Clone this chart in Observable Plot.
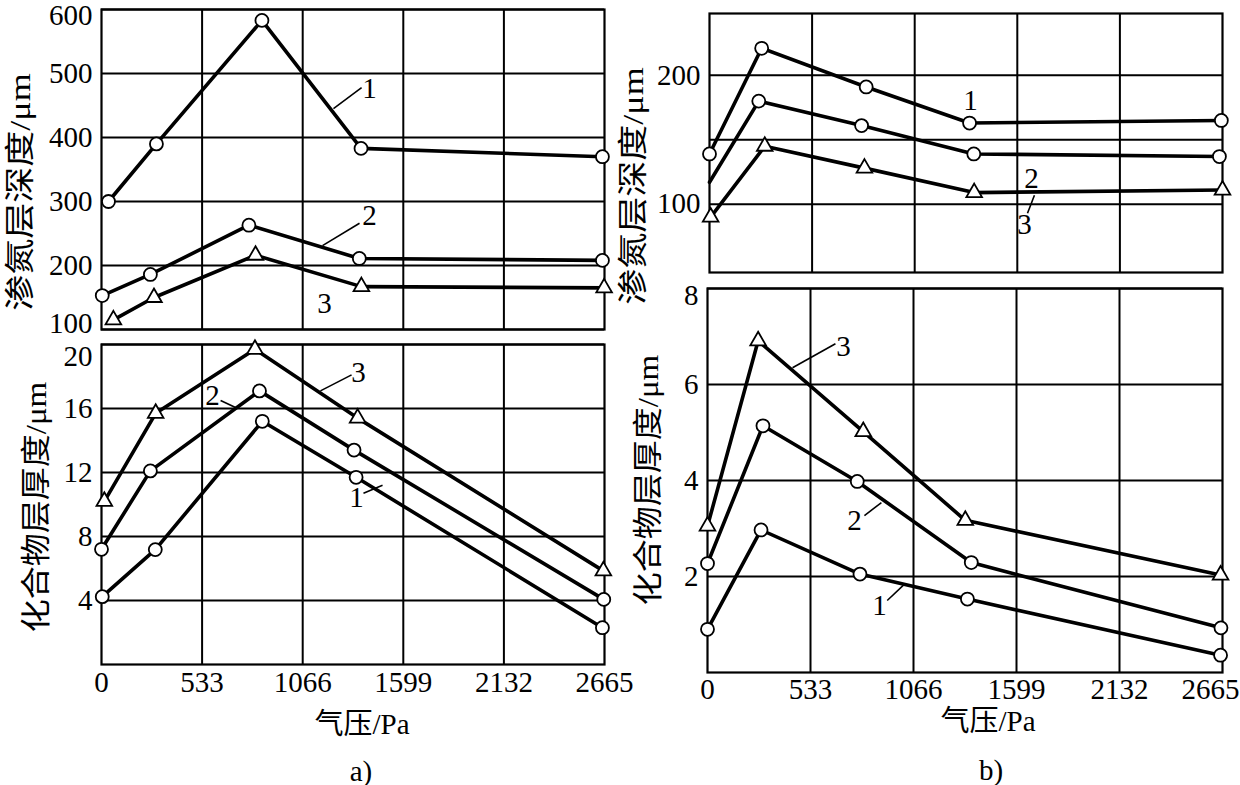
<!DOCTYPE html>
<html><head><meta charset="utf-8">
<script src="https://cdn.jsdelivr.net/npm/d3@7"></script>
<script src="https://cdn.jsdelivr.net/npm/@observablehq/plot@0.6"></script>
<style>
html,body{margin:0;padding:0;background:#fff;}
#root{position:relative;width:1240px;height:785px;overflow:hidden;background:#fff;font-family:"Liberation Serif","Noto Sans CJK SC",serif;color:#000;}
#root svg{position:absolute;left:0;top:0;}
.lbl{position:absolute;white-space:nowrap;line-height:1;font-size:29px;font-family:"Liberation Serif","Noto Sans CJK SC",serif;}
</style></head><body><div id="root"></div>
<script>
// ---- shared axis ticks ----
const pressureTicks = [0, 533, 1066, 1599, 2132, 2665];

// ---- panel a) top : 渗氮层深度 (μm) ----
const aDepth1X = [37, 291, 850, 1375, 2654];
const aDepth1Y = [300, 390, 583, 383, 370];
const aDepth2X = [4, 259, 781, 1366, 2654];
const aDepth2Y = [153, 186, 263, 211, 208];
const aDepth3X = [63, 278, 816, 1377, 2663];
const aDepth3Y = [115, 150, 216, 167, 165];
const aDepthTicks = [100, 200, 300, 400, 500, 600];

// ---- panel a) bottom : 化合物层厚度 (μm) ----
const aComp1X = [4, 285, 852, 1349, 2654];
const aComp1Y = [4.24, 7.18, 15.2, 11.7, 2.3];
const aComp2X = [0, 259, 837, 1338, 2661];
const aComp2Y = [7.2, 12.1, 17.1, 13.4, 4.07];
const aComp3X = [15, 287, 813, 1357, 2659];
const aComp3Y = [10.2, 15.7, 19.7, 15.4, 5.85];
const aCompTicks = [4, 8, 12, 16, 20];

// ---- panel b) top : 渗氮层深度 (μm) ----
const bDepth1X = [0, 271, 814, 1351, 2659];
const bDepth1Y = [139, 221, 191, 163, 165];
const bDepth2X = [0, 256, 790, 1373, 2649];
const bDepth2Y = [117, 180, 161, 139, 137];
const bDepth3X = [6, 287, 805, 1375, 2665];
const bDepth3Y = [90, 145, 128, 109, 111];
const bDepthTicks = [100, 200];
const bDepthGrid = [100, 150, 200];

// ---- panel b) bottom : 化合物层厚度 (μm) ----
const bComp1X = [0, 277, 789, 1345, 2655];
const bComp1Y = [0.9, 2.97, 2.05, 1.53, 0.36];
const bComp2X = [0, 287, 775, 1365, 2657];
const bComp2Y = [2.27, 5.14, 3.98, 2.29, 0.93];
const bComp3X = [0, 262, 806, 1334, 2655];
const bComp3Y = [3.05, 6.91, 5.02, 3.17, 2.03];
const bCompTicks = [2, 4, 6, 8];

// curve number labels and their leader lines (data coordinates)
const aDepthNotes = [{x:1420,y:477,t:"1"},{x:1420,y:278,t:"2"},{x:1181,y:141,t:"3"}];
const aDepthLeaders = [{x1:1229,y1:445,x2:1378,y2:478},{x1:1171,y1:231,x2:1367,y2:266}];
const aCompNotes = [{x:1362,y:18.25,t:"3"},{x:588,y:16.8,t:"2"},{x:1351,y:10.4,t:"1"}];
const aCompLeaders = [{x1:1160,y1:17.1,x2:1325,y2:18.1},{x1:631,y1:16.5,x2:710,y2:16.06},{x1:1388,y1:10.7,x2:1489,y2:11.2}];
const bDepthNotes = [{x:1356,y:180.6,t:"1"},{x:1673,y:120,t:"2"},{x:1636,y:84,t:"3"}];
const bDepthLeaders = [{x1:1652,y1:93,x2:1688,y2:107}];
const bCompNotes = [{x:704,y:6.79,t:"3"},{x:761,y:3.17,t:"2"},{x:890,y:1.4,t:"1"}];
const bCompLeaders = [{x1:440,y1:6.35,x2:662,y2:6.85},{x1:812,y1:3.27,x2:900,y2:3.54},{x1:930,y1:1.5,x2:1017,y2:1.83}];

const W = 1240, H = 785;
const FONT = '"Liberation Serif","Noto Sans CJK SC",serif';
const root = document.getElementById("root");

function panel(cfg) {
  const rows = [];
  cfg.series.forEach(s => s.x.forEach((x, i) => rows.push({
    x, y: s.y[i], series: s.name, tri: s.tri, show: !(s.hideFirst && i === 0)
  })));
  const [L, T, R, B] = cfg.rect;
  const txt = {fontFamily: FONT, fontSize: 29, fill: "#000"};
  const marks = [
    Plot.ruleY(cfg.grid, {y: d => d, stroke: "#000", strokeWidth: 2}),
    Plot.ruleX(pressureTicks.slice(1, -1), {x: d => d, stroke: "#000", strokeWidth: 2}),
    Plot.frame({stroke: "#000", strokeWidth: 2.2}),
    Plot.link(cfg.leaders, {x1: "x1", y1: "y1", x2: "x2", y2: "y2", stroke: "#000", strokeWidth: 1.6}),
    Plot.line(rows, {x: "x", y: "y", z: "series", stroke: "#000", strokeWidth: 3.6, strokeLinejoin: "round"}),
    Plot.dot(rows.filter(d => !d.tri && d.show), {x: "x", y: "y", r: 6.5, fill: "#fff", stroke: "#000", strokeWidth: 1.8}),
    Plot.dot(rows.filter(d => d.tri), {x: "x", y: "y", symbol: "triangle", r: 5.8, fill: "#fff", stroke: "#000", strokeWidth: 1.8}),
    Plot.text(cfg.notes, {x: "x", y: "y", text: "t", ...txt})
  ];
  const nudge = cfg.nudge || {};
  cfg.ticks.forEach(t => {
    marks.push(Plot.text([t], {y: d => d, text: d => String(d), frameAnchor: "left", textAnchor: "end", dx: -9, dy: nudge[t] || 0, ...txt}));
  });
  if (cfg.xLabels) {
    const last = pressureTicks[pressureTicks.length - 1];
    marks.push(Plot.text(pressureTicks.filter(t => !(cfg.clipLast && t === last)), {x: d => d, text: d => String(d), frameAnchor: "bottom", lineAnchor: "middle", dy: cfg.xdy, ...txt}));
    if (cfg.clipLast) {
      marks.push(Plot.text([last], {x: d => d, text: d => String(d), frameAnchor: "bottom", lineAnchor: "middle", textAnchor: "end", dx: 17, dy: cfg.xdy, ...txt}));
    }
  }
  const svg = Plot.plot({
    width: W, height: H,
    marginLeft: L, marginTop: T, marginRight: W - R, marginBottom: H - B,
    x: {domain: [0, 2665], axis: null},
    y: {domain: cfg.domain, axis: null},
    style: {fontFamily: FONT, fontSize: "29px", background: "transparent", color: "#000", overflow: "visible"},
    marks
  });
  root.appendChild(svg);
}

panel({
  rect: [101, 9, 604, 329], domain: [100, 600], ticks: aDepthTicks, grid: aDepthTicks, nudge: {100: -6, 600: 6},
  series: [{name: "1", x: aDepth1X, y: aDepth1Y}, {name: "2", x: aDepth2X, y: aDepth2Y}, {name: "3", x: aDepth3X, y: aDepth3Y, tri: true}],
  notes: aDepthNotes, leaders: aDepthLeaders, xLabels: false
});
panel({
  rect: [101, 344, 604, 664], domain: [0, 20], ticks: aCompTicks, grid: aCompTicks, nudge: {20: 12},
  series: [{name: "1", x: aComp1X, y: aComp1Y}, {name: "2", x: aComp2X, y: aComp2Y}, {name: "3", x: aComp3X, y: aComp3Y, tri: true}],
  notes: aCompNotes, leaders: aCompLeaders, xLabels: true, xdy: 18
});
panel({
  rect: [709, 13, 1222, 272], domain: [47, 248], ticks: bDepthTicks, grid: bDepthGrid,
  series: [{name: "1", x: bDepth1X, y: bDepth1Y}, {name: "2", x: bDepth2X, y: bDepth2Y, hideFirst: true}, {name: "3", x: bDepth3X, y: bDepth3Y, tri: true}],
  notes: bDepthNotes, leaders: bDepthLeaders, xLabels: false
});
panel({
  rect: [707, 288, 1222, 672], domain: [0, 8], ticks: bCompTicks, grid: bCompTicks, nudge: {8: 7},
  series: [{name: "1", x: bComp1X, y: bComp1Y}, {name: "2", x: bComp2X, y: bComp2Y}, {name: "3", x: bComp3X, y: bComp3Y, tri: true}],
  notes: bCompNotes, leaders: bCompLeaders, xLabels: true, xdy: 17, clipLast: true
});

// ---- titles / axis labels ----
function label(text, cx, cy, opts = {}) {
  const d = document.createElement("div");
  d.className = "lbl";
  d.textContent = text;
  d.style.left = cx + "px";
  d.style.top = cy + "px";
  if (opts.size) d.style.fontSize = opts.size + "px";
  d.style.transform = "translate(-50%,-50%)" + (opts.rot ? " rotate(-90deg) scaleX(" + (opts.sx || 1) + ")" : "");
  root.appendChild(d);
}
label("渗氮层深度/μm", 20, 192, {rot: true, sx: 1.2, size: 30});
label("化合物层厚度/μm", 36, 507, {rot: true, sx: 1.1, size: 30});
label("渗氮层深度/μm", 633, 186, {rot: true, sx: 1.2, size: 30});
label("化合物层厚度/μm", 648, 480, {rot: true, sx: 1.1, size: 30});
label("气压/Pa", 362, 724);
label("气压/Pa", 988, 721);
label("a)", 361, 771);
label("b)", 991, 770);
</script></body></html>
